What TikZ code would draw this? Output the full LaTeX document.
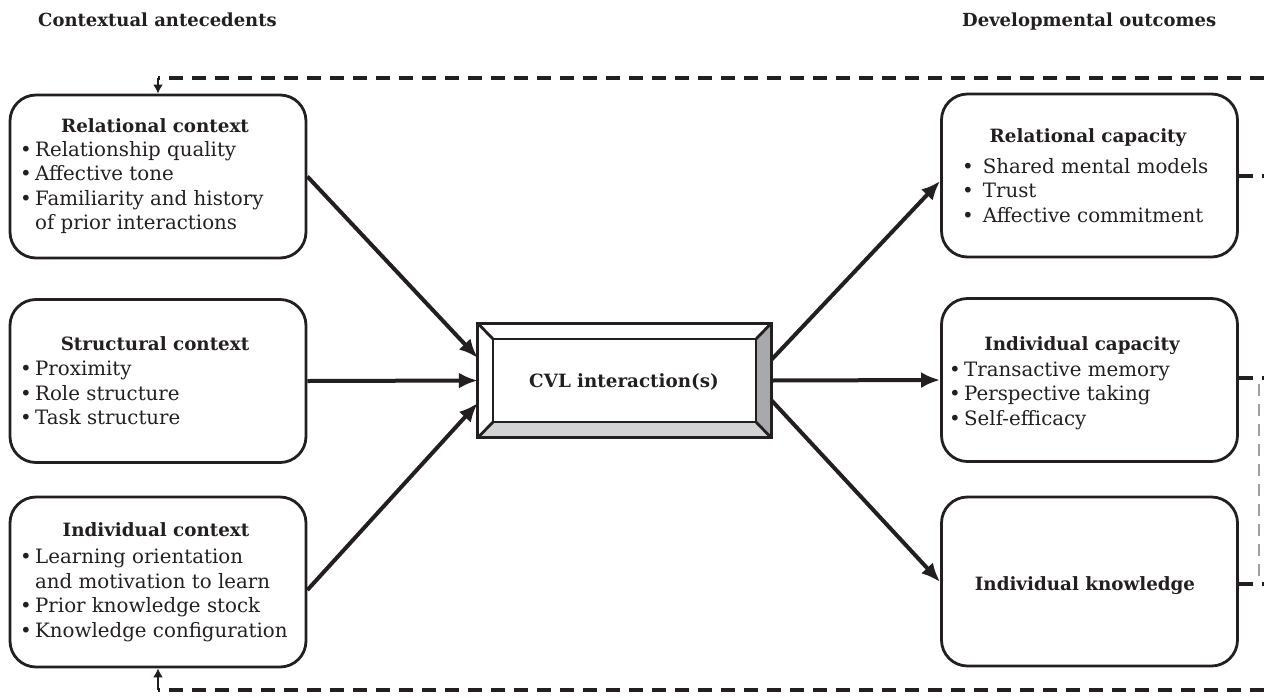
\documentclass[tikz,border=0pt]{standalone}
\usepackage{fontspec}
\setmainfont{DejaVu Serif}
\usetikzlibrary{arrows.meta}
\definecolor{ink}{HTML}{231F20}
\definecolor{bevdark}{HTML}{A7A9AC}
\definecolor{bevlight}{HTML}{D1D3D4}
\definecolor{fbgray}{HTML}{A0A0A0}
\tikzset{
  cbox/.style={draw=ink, line width=2.8pt, rounded corners=26pt, minimum width=296pt, minimum height=163pt, inner sep=0pt},
  boxtitle/.style={font=\fontsize{18.3}{22}\selectfont\bfseries, text=ink, inner sep=0pt, anchor=base},
  blist/.style={font=\fontsize{19.8}{24.5}\selectfont, text=ink, align=left, inner sep=0pt, anchor=base west},
  heading/.style={font=\fontsize{18}{21}\selectfont\bfseries, text=ink, inner sep=0pt, anchor=base west},
  flow/.style={line width=4pt, draw=ink, -{Latex[length=19pt,width=16pt]}},
  fb/.style={line width=3.2pt, draw=ink, dash pattern=on 14pt off 9pt},
  fbgrey/.style={line width=1.5pt, draw=fbgray, dash pattern=on 12pt off 8pt},
  fbarrow/.style={line width=2.6pt, draw=ink, -{Latex[length=9pt,width=10pt]}},
  edge/.style={draw=ink, line width=2.8pt, line join=miter}
}
\begin{document}
\begin{tikzpicture}[x=1pt,y=-1pt]
\useasboundingbox (0,0) rectangle (1264,697);

% headings
\node[heading] (hl) at (38,26) {Contextual antecedents};
\node[heading] (hr) at (962,26) {Developmental outcomes};

% left boxes
\node[cbox] (rc) at (158,176.5) {};
\node[cbox] (sc) at (158,381) {};
\node[cbox, minimum height=170pt] (ic) at (158,582) {};

\node[boxtitle] (rct) at (155,132) {Relational context};
\node[blist] (rcl) at (20,229.5) {\textbullet\,Relationship quality\\ \textbullet\,Affective tone\\ \textbullet\,Familiarity and history\\ \phantom{\textbullet\,}of prior interactions};

\node[boxtitle] (sct) at (155,350) {Structural context};
\node[blist] (scl) at (20,424.5) {\textbullet\,Proximity\\ \textbullet\,Role structure\\ \textbullet\,Task structure};

\node[boxtitle] (ict) at (156,536) {Individual context};
\node[blist] (icl) at (20,637) {\textbullet\,Learning orientation\\ \phantom{\textbullet\,}and motivation to learn\\ \textbullet\,Prior knowledge stock\\ \textbullet\,Knowledge configuration};

% right boxes
\node[cbox] (ra) at (1089.5,175.5) {};
\node[cbox] (rb) at (1089.5,380) {};
\node[cbox, minimum height=169pt] (rk) at (1089.5,581.5) {};

\node[boxtitle] (rat) at (1088,142) {Relational capacity};
\node[blist] (ral) at (962,222) {\textbullet\hspace{9pt}Shared mental models\\ \textbullet\hspace{9pt}Trust\\ \textbullet\hspace{9pt}Affective commitment};

\node[boxtitle] (rbt) at (1082,350) {Individual capacity};
\node[blist] (rbl) at (949,425) {\textbullet\,Transactive memory\\ \textbullet\,Perspective taking\\ \textbullet\,Self-efficacy};

\node[boxtitle] (rkt) at (1085,590) {Individual knowledge};

% CVL bevelled box
\node[minimum width=293pt, minimum height=114pt, inner sep=0pt] (cvl) at (624.5,380.5) {};
\coordinate (inw) at (493,339);
\coordinate (ine) at (756,339);
\coordinate (ise) at (756,422);
\coordinate (isw) at (493,422);
\fill[bevlight] (cvl.south west) -- (cvl.south east) -- (ise) -- (isw) -- cycle;
\fill[bevdark] (cvl.north east) -- (cvl.south east) -- (ise) -- (ine) -- cycle;
\draw[edge] (cvl.north west) rectangle (cvl.south east);
\draw[edge] (inw) rectangle (ise);
\draw[edge] (cvl.north west) -- (inw);
\draw[edge] (cvl.north east) -- (ine);
\draw[edge] (cvl.south east) -- (ise);
\draw[edge] (cvl.south west) -- (isw);
\node[font=\fontsize{18.3}{22}\selectfont\bfseries, text=ink, inner sep=0pt, anchor=base] (cvlt) at (624,387) {CVL interaction(s)};

% flows in
\draw[flow] (rc.east) -- (cvl.west |- 0,358);
\draw[flow] (sc.east) -- (cvl.west);
\draw[flow] (ic.east |- 0,590) -- (cvl.west |- 0,403);

% flows out
\draw[flow] (cvl.east |- 0,360) -- (ra.west |- 0,181);
\draw[flow] (cvl.east) -- (rb.west);
\draw[flow] (cvl.east |- 0,400) -- (rk.west |- 0,582);

% feedback
\coordinate (tl) at (158,78);
\coordinate (tr) at (1264,78);
\coordinate (bl) at (158,690);
\coordinate (br) at (1264,690);
\draw[fb] (tr) -- (tl);
\draw[fb] (br) -- (bl);
\draw[fbarrow] (tl) -- (rc.north);
\draw[fbarrow] (bl) -- (ic.south);

\coordinate (fa) at (1264,176);
\coordinate (fbk) at (1259,378);
\coordinate (fck) at (1259,584);
\draw[fb] (ra.east |- fa) -- (fa);
\draw[fb] (rb.east |- fbk) -- (fbk) -- ++(5,0);
\draw[fb] (rk.east |- fck) -- (fck) -- ++(5,0);
\draw[fbgrey] (fbk) ++(0,6) -- (fck |- 0,578);
\end{tikzpicture}
\end{document}
